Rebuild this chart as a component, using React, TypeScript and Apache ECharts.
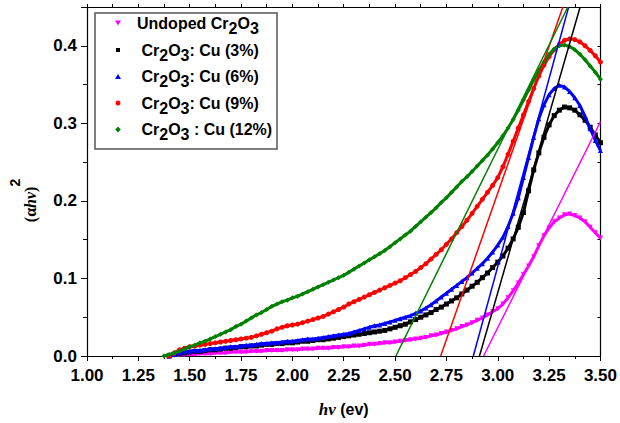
import React, { useEffect, useRef } from "react";
import * as echarts from "echarts";

// photon energy hν (eV)
const photonEnergy = [
  1.375, 1.4, 1.425, 1.45, 1.475, 1.5, 1.525, 1.55, 1.575, 1.6,
  1.625, 1.65, 1.675, 1.7, 1.725, 1.75, 1.775, 1.8, 1.825, 1.85,
  1.875, 1.9, 1.925, 1.95, 1.975, 2.0, 2.025, 2.05, 2.075, 2.1,
  2.125, 2.15, 2.175, 2.2, 2.225, 2.25, 2.275, 2.3, 2.325, 2.35,
  2.375, 2.4, 2.425, 2.45, 2.475, 2.5, 2.525, 2.55, 2.575, 2.6,
  2.625, 2.65, 2.675, 2.7, 2.725, 2.75, 2.775, 2.8, 2.825, 2.85,
  2.875, 2.9, 2.925, 2.95, 2.975, 3.0, 3.025, 3.05, 3.075, 3.1,
  3.125, 3.15, 3.175, 3.2, 3.225, 3.25, 3.275, 3.3, 3.325, 3.35,
  3.375, 3.4, 3.425, 3.45, 3.475, 3.5,
];

// (αhν)^2 for each sample
const undoped = [
  null, 0.0, 0.001, 0.001, 0.002, 0.002, 0.002, 0.003, 0.003, 0.003,
  0.004, 0.004, 0.004, 0.005, 0.005, 0.005, 0.005, 0.006, 0.006, 0.006,
  0.007, 0.007, 0.007, 0.007, 0.008, 0.008, 0.008, 0.009, 0.009, 0.009,
  0.01, 0.01, 0.01, 0.011, 0.011, 0.012, 0.012, 0.013, 0.013, 0.014,
  0.015, 0.015, 0.016, 0.017, 0.017, 0.018, 0.019, 0.02, 0.021, 0.022,
  0.023, 0.024, 0.026, 0.027, 0.029, 0.031, 0.033, 0.035, 0.038, 0.04,
  0.043, 0.046, 0.049, 0.053, 0.057, 0.061, 0.067, 0.075, 0.084, 0.094,
  0.105, 0.116, 0.128, 0.142, 0.155, 0.165, 0.173, 0.178, 0.182, 0.183,
  0.181, 0.178, 0.173, 0.166, 0.159, 0.152,
];
const cu3 = [
  null, 0.0, 0.002, 0.003, 0.004, 0.005, 0.006, 0.006, 0.007, 0.008,
  0.008, 0.009, 0.01, 0.01, 0.011, 0.012, 0.012, 0.013, 0.013, 0.014,
  0.015, 0.015, 0.016, 0.016, 0.017, 0.017, 0.018, 0.019, 0.019, 0.02,
  0.021, 0.021, 0.022, 0.023, 0.024, 0.025, 0.026, 0.027, 0.028, 0.029,
  0.03, 0.031, 0.032, 0.033, 0.035, 0.037, 0.039, 0.041, 0.044, 0.047,
  0.05, 0.053, 0.056, 0.06, 0.063, 0.067, 0.071, 0.075, 0.08, 0.085,
  0.09, 0.095, 0.101, 0.107, 0.114, 0.121, 0.129, 0.139, 0.151, 0.166,
  0.185, 0.213, 0.24, 0.262, 0.282, 0.298, 0.31, 0.317, 0.321, 0.32,
  0.317, 0.311, 0.304, 0.295, 0.285, 0.275,
];
const cu6 = [
  null, 0.0, 0.002, 0.004, 0.005, 0.006, 0.007, 0.007, 0.008, 0.009,
  0.0095, 0.01, 0.011, 0.012, 0.012, 0.013, 0.014, 0.014, 0.015, 0.016,
  0.016, 0.017, 0.017, 0.018, 0.019, 0.019, 0.02, 0.021, 0.022, 0.022,
  0.023, 0.024, 0.025, 0.026, 0.027, 0.028, 0.029, 0.031, 0.033, 0.035,
  0.037, 0.039, 0.04, 0.042, 0.044, 0.046, 0.048, 0.05, 0.052, 0.055,
  0.058, 0.062, 0.066, 0.071, 0.076, 0.081, 0.086, 0.091, 0.096, 0.101,
  0.107, 0.113, 0.119, 0.126, 0.134, 0.143, 0.153, 0.167, 0.184, 0.204,
  0.23, 0.256, 0.282, 0.306, 0.324, 0.337, 0.345, 0.349, 0.347, 0.341,
  0.333, 0.323, 0.309, 0.293, 0.278, 0.265,
];
const cu9 = [
  null, 0.0, 0.004, 0.008, 0.01, 0.012, 0.013, 0.014, 0.015, 0.016,
  0.017, 0.018, 0.019, 0.02, 0.021, 0.022, 0.023, 0.024, 0.026, 0.028,
  0.03, 0.032, 0.035, 0.037, 0.039, 0.04, 0.041, 0.043, 0.045, 0.047,
  0.049, 0.051, 0.054, 0.057, 0.06, 0.063, 0.067, 0.07, 0.073, 0.076,
  0.079, 0.082, 0.085, 0.088, 0.091, 0.094, 0.097, 0.101, 0.105, 0.109,
  0.114, 0.119, 0.125, 0.131, 0.137, 0.144, 0.151, 0.159, 0.167, 0.175,
  0.184, 0.193, 0.202, 0.211, 0.22, 0.23, 0.244, 0.26, 0.277, 0.294,
  0.311, 0.328, 0.345, 0.361, 0.375, 0.386, 0.395, 0.402, 0.407, 0.409,
  0.408, 0.405, 0.4, 0.394, 0.387, 0.379,
];
const cu12 = [
  0.0, 0.002, 0.004, 0.006, 0.009, 0.012, 0.014, 0.017, 0.019, 0.022,
  0.025, 0.028, 0.031, 0.034, 0.038, 0.041, 0.045, 0.049, 0.053, 0.056,
  0.06, 0.064, 0.067, 0.07, 0.072, 0.075, 0.077, 0.08, 0.083, 0.086,
  0.089, 0.092, 0.095, 0.098, 0.101, 0.104, 0.108, 0.112, 0.116, 0.12,
  0.124, 0.128, 0.132, 0.136, 0.141, 0.146, 0.151, 0.156, 0.161, 0.167,
  0.173, 0.179, 0.185, 0.191, 0.198, 0.204, 0.211, 0.218, 0.225, 0.231,
  0.238, 0.245, 0.252, 0.259, 0.267, 0.275, 0.284, 0.294, 0.305, 0.317,
  0.33, 0.343, 0.356, 0.368, 0.379, 0.389, 0.396, 0.4, 0.401, 0.399,
  0.395, 0.389, 0.382, 0.374, 0.366, 0.357,
];

// linear (Tauc) fits: [hν, (αhν)^2] end points
const fitUndoped = [[2.931, 0], [3.5, 0.302]];
const fitCu3 = [[2.911, 0], [3.401, 0.45]];
const fitCu6 = [[2.881, 0], [3.345, 0.45]];
const fitCu9 = [[2.722, 0], [3.317, 0.45]];
const fitCu12 = [[2.504, 0], [3.341, 0.45]];

const xTicks = [1.0, 1.25, 1.5, 1.75, 2.0, 2.25, 2.5, 2.75, 3.0, 3.25, 3.5];
const yTicks = [0.0, 0.1, 0.2, 0.3, 0.4];

const SANS = 'Arial, "Liberation Sans", Helvetica, sans-serif';
const SERIF = '"Times New Roman", "Liberation Serif", serif';

const pairs = (vals: (number | null)[]) =>
  photonEnergy
    .map((e, i) => [e, vals[i]])
    .filter((p) => p[1] !== null && p[1] !== undefined);

const seriesDefs = [
  { name: "Undoped Cr2O3", data: undoped, fit: fitUndoped, color: "#FF00FF", symbol: "triangle", rot: 180 },
  { name: "Cr2O3: Cu (3%)", data: cu3, fit: fitCu3, color: "#000000", symbol: "rect", rot: 0 },
  { name: "Cr2O3: Cu (6%)", data: cu6, fit: fitCu6, color: "#0000FF", symbol: "triangle", rot: 0 },
  { name: "Cr2O3: Cu (9%)", data: cu9, fit: fitCu9, color: "#FF0000", symbol: "circle", rot: 0 },
  { name: "Cr2O3 : Cu (12%)", data: cu12, fit: fitCu12, color: "#008000", symbol: "diamond", rot: 0 },
];

const legendTexts = [
  "{m|Undoped Cr}{s|2}{m|O}{s|3}",
  "{m| Cr}{s|2}{m|O}{s|3}{m|: Cu (3%)}",
  "{m| Cr}{s|2}{m|O}{s|3}{m|: Cu (6%)}",
  "{m| Cr}{s|2}{m|O}{s|3}{m|: Cu (9%)}",
  "{m| Cr}{s|2}{m|O}{s|3}{m| : Cu (12%)}",
];

export default function App() {
  const ref = useRef<HTMLDivElement>(null);

  useEffect(() => {
    if (!ref.current) return;
    const chart = echarts.init(ref.current, undefined, { renderer: "svg" });

    const rowY = [23, 50, 76.5, 103, 129.5];
    const iconX = 118;
    const legendRich = {
      m: { fontSize: 16, fontWeight: "bold", fontFamily: SANS, fill: "#000", lineHeight: 16, verticalAlign: "top" },
      s: { fontSize: 16, fontWeight: "bold", fontFamily: SANS, fill: "#000", lineHeight: 21, verticalAlign: "bottom" },
    };
    const icons: any[] = [
      { type: "polygon", shape: { points: [[115, 20.5], [121, 20.5], [118, 25.5]] }, style: { fill: "#FF00FF" } },
      { type: "rect", shape: { x: iconX - 2, y: rowY[1] - 2, width: 4, height: 4 }, style: { fill: "#000" } },
      { type: "polygon", shape: { points: [[115, 79], [121, 79], [118, 74]] }, style: { fill: "#0000FF" } },
      { type: "circle", shape: { cx: iconX, cy: rowY[3], r: 2.5 }, style: { fill: "#FF0000" } },
      { type: "polygon", shape: { points: [[118, 126.5], [120.8, 129.5], [118, 132.5], [115.2, 129.5]] }, style: { fill: "#008000" } },
    ];
    const legendGraphic: any[] = [
      {
        type: "rect",
        shape: { x: 95, y: 13, width: 182, height: 136 },
        style: { fill: "#fff", stroke: "#555", lineWidth: 1.5 },
        z: 100,
      },
      ...icons.map((ic) => ({ ...ic, z: 101 })),
      ...legendTexts.map((t, i) => ({
        type: "text",
        x: 137,
        y: rowY[i] - 8,
        z: 101,
        style: { text: t, rich: legendRich, align: "left", verticalAlign: "top", fill: "#000" },
      })),
    ];

    const tickLine = { color: "#000", width: 1 };
    const dataSeries = seriesDefs.map((s, i) => ({
      type: "line",
      name: s.name,
      data: pairs(s.data as any),
      xAxisIndex: 0,
      yAxisIndex: 0,
      symbol: s.symbol,
      symbolRotate: s.rot,
      symbolSize: 5,
      showSymbol: true,
      lineStyle: { width: 3, color: s.color },
      itemStyle: { color: s.color },
      z: 2 + i,
      silent: true,
    }));
    const fitSeries = seriesDefs.map((s, i) => ({
      type: "line",
      name: s.name + " fit",
      data: s.fit,
      xAxisIndex: 0,
      yAxisIndex: 0,
      symbol: "none",
      lineStyle: { width: 1.5, color: s.color },
      z: 10 + i,
      silent: true,
    }));

    chart.setOption({
      animation: false,
      backgroundColor: "#fff",
      textStyle: { fontFamily: SANS },
      grid: { left: 87, top: 7, width: 515, height: 352, containLabel: false },
      xAxis: [
        {
          type: "value",
          position: "bottom",
          min: xTicks[0],
          max: xTicks[xTicks.length - 1],
          interval: 0.25,
          axisLine: { show: true, onZero: false, lineStyle: { color: "#000", width: 1.2 } },
          axisTick: { show: true, inside: false, length: 5, lineStyle: tickLine },
          minorTick: { show: true, splitNumber: 2, length: 3, lineStyle: tickLine },
          splitLine: { show: false },
          axisLabel: {
            margin: 11,
            fontSize: 17,
            fontWeight: "bold",
            fontFamily: SANS,
            color: "#000",
            formatter: (v: number) => v.toFixed(2),
          },
          name: "{pi|hν}{b| (ev)}",
          nameLocation: "middle",
          nameGap: 45,
          nameTextStyle: {
            rich: {
              pi: { fontFamily: SERIF, fontStyle: "italic", fontWeight: "bold", fontSize: 17, color: "#000" },
              b: { fontFamily: SANS, fontWeight: "bold", fontSize: 16, color: "#000" },
            },
          },
        },
        {
          type: "value",
          position: "top",
          min: xTicks[0],
          max: xTicks[xTicks.length - 1],
          interval: 0.125,
          axisLine: { show: true, onZero: false, lineStyle: { color: "#000", width: 1.2 } },
          axisTick: { show: true, inside: false, length: 3, lineStyle: tickLine },
          axisLabel: { show: false },
          splitLine: { show: false },
        },
      ],
      yAxis: [
        {
          type: "value",
          position: "left",
          min: yTicks[0],
          max: 0.45,
          interval: 0.1,
          axisLine: { show: true, onZero: false, lineStyle: { color: "#000", width: 1.2 } },
          axisTick: { show: true, inside: false, length: 6, lineStyle: tickLine },
          minorTick: { show: true, splitNumber: 2, length: 4, lineStyle: tickLine },
          splitLine: { show: false },
          axisLabel: {
            margin: 10,
            fontSize: 17,
            fontWeight: "bold",
            fontFamily: SANS,
            color: "#000",
            formatter: (v: number) =>
              Math.abs(v * 10 - Math.round(v * 10)) < 1e-6 ? v.toFixed(1) : "",
          },
          name: "{p|(α}{pi|hν}{p|)}{sup|2}",
          nameLocation: "middle",
          nameRotate: 90,
          nameGap: 49,
          nameTextStyle: {
            padding: [0, 38, 0, 0],
            rich: {
              p: { fontFamily: SERIF, fontWeight: "bold", fontSize: 16, color: "#000", lineHeight: 30, verticalAlign: "bottom" },
              pi: { fontFamily: SERIF, fontStyle: "italic", fontWeight: "bold", fontSize: 16, color: "#000", lineHeight: 30, verticalAlign: "bottom" },
              sup: { fontFamily: SANS, fontWeight: "bold", fontSize: 14, color: "#000", lineHeight: 14, verticalAlign: "top" },
            },
          },
        },
        {
          type: "value",
          position: "right",
          min: 0,
          max: 0.45,
          interval: 0.05,
          axisLine: { show: true, onZero: false, lineStyle: { color: "#000", width: 1.2 } },
          axisTick: { show: true, inside: true, length: 3, lineStyle: tickLine },
          axisLabel: { show: false },
          splitLine: { show: false },
        },
      ],
      series: [...dataSeries, ...fitSeries],
      graphic: legendGraphic,
    });

    return () => chart.dispose();
  }, []);

  return (
    <div
      ref={ref}
      style={{ position: "fixed", left: 0, top: 0, width: 620, height: 423, background: "#fff" }}
    />
  );
}
